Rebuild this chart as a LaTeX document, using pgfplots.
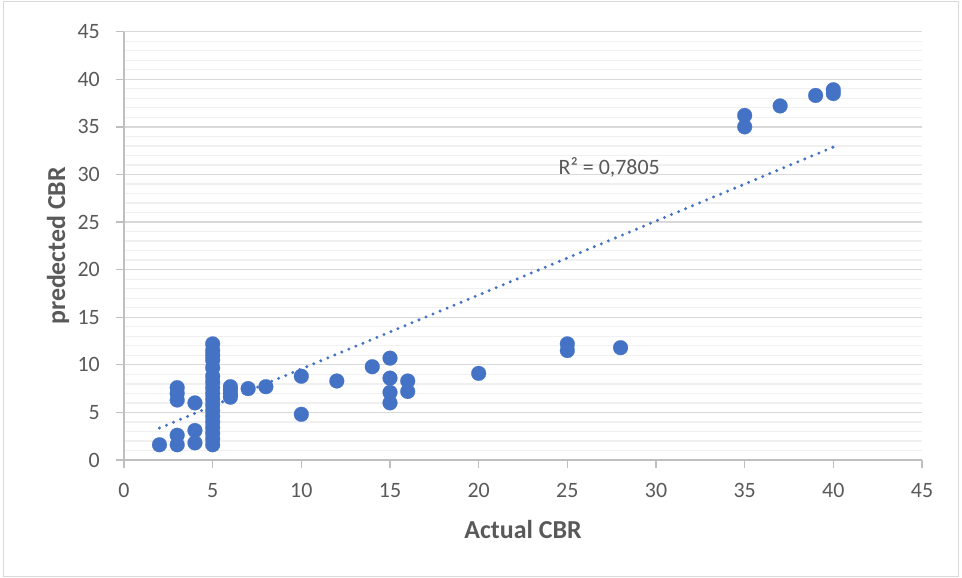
\documentclass[border=0pt]{standalone}
\usepackage{pgfplots}
\pgfplotsset{compat=1.18}
\usepackage{fontspec}
\setmainfont{Carlito}

\definecolor{ptblue}{HTML}{4472C4}
\definecolor{txtgray}{HTML}{595959}
\definecolor{majgrid}{HTML}{D9D9D9}
\definecolor{mingrid}{HTML}{F0F0F0}
\definecolor{axgray}{HTML}{BFBFBF}
\definecolor{framegray}{HTML}{D9D9D9}

\begin{document}
\begin{tikzpicture}[x=1bp,y=1bp]
  \useasboundingbox (0,0) rectangle (962,578);
  \draw[framegray, line width=1bp] (3.5,1.5) rectangle (958.5,576);

  \begin{axis}[
    at={(124bp,118bp)}, anchor=south west,
    scale only axis,
    width=798bp, height=428.3bp,
    xmin=0, xmax=45, ymin=0, ymax=45,
    xtick={0,5,...,45}, ytick={0,5,...,45},
    minor y tick num=4,
    ymajorgrids, yminorgrids,
    major grid style={majgrid, line width=1.3bp},
    minor grid style={mingrid, line width=1.3bp},
    axis lines*=left,
    axis line style={axgray, line width=1.3bp},
    tick align=outside,
    major tick length=8bp,
    minor tick length=0pt,
    major tick style={axgray, line width=1.3bp},
    /pgf/number format/assume math mode=true,
    tick label style={font=\fontsize{22}{26}\selectfont, text=txtgray, inner sep=0pt},
    xticklabel shift=15bp,
    yticklabel shift=16bp,
    xlabel={Actual CBR},
    ylabel={predected CBR},
    label style={font=\bfseries\fontsize{26}{30}\selectfont, text=txtgray},
    xlabel style={at={(rel axis cs:0.5,0)}, anchor=center, yshift=-70bp},
    ylabel style={at={(rel axis cs:0,0.5)}, anchor=center, rotate=0, yshift=66bp},
    clip=false,
  ]
    % measured values
    \addplot[only marks, mark=*, mark size=7.4bp,
      mark options={fill=ptblue, draw=ptblue, line width=0.2bp}]
      coordinates {
        (2,1.6)
        (3,7.6) (3,7.0) (3,6.3) (3,2.6) (3,1.6)
        (4,6.0) (4,3.1) (4,1.8)
        (5,1.6) (5,2.2) (5,2.8) (5,3.4) (5,4.0) (5,4.6) (5,5.2) (5,5.8)
        (5,6.4) (5,7.0) (5,7.6) (5,8.2) (5,8.8) (5,9.7) (5,10.5) (5,11.0)
        (5,11.5) (5,12.2)
        (6,6.6) (6,7.0) (6,7.4) (6,7.7)
        (7,7.5)
        (8,7.7)
        (10,8.8) (10,4.8)
        (12,8.3)
        (14,9.8)
        (15,10.7) (15,8.6) (15,7.1) (15,6.0)
        (16,8.3) (16,7.2)
        (20,9.1)
        (25,12.2) (25,11.5)
        (28,11.8)
        (35,36.2) (35,35.0)
        (37,37.2)
        (39,38.3)
        (40,38.9) (40,38.5)
      };
    % linear trend line
    \addplot[ptblue, line width=3.3bp, line cap=round,
      dash pattern=on 0bp off 7.6bp]
      coordinates {(2,3.35) (40,32.88)};
    \node[anchor=west, inner sep=0pt, text=txtgray,
      font=\fontsize{22}{26}\selectfont] at (axis cs:24.5,30.7) {R² = 0,7805};
  \end{axis}
\end{tikzpicture}
\end{document}
